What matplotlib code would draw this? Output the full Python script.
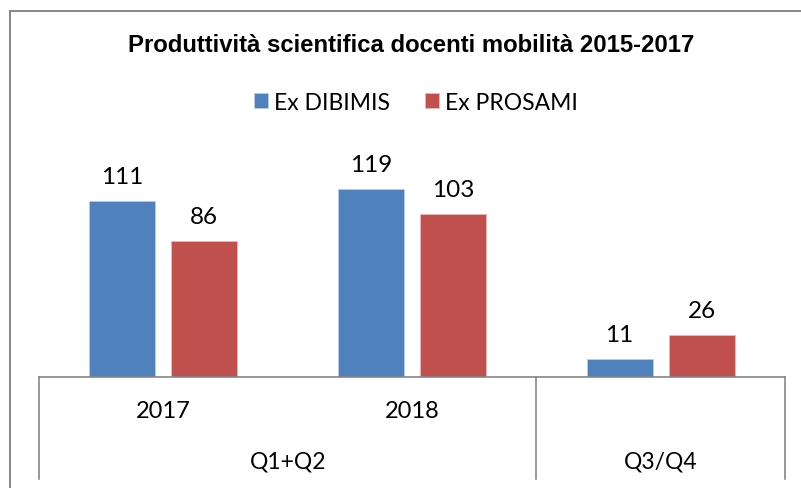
import numpy as np
import matplotlib.pyplot as plt
from matplotlib.patches import Rectangle
from matplotlib.lines import Line2D
import matplotlib.transforms as mtransforms

title = "Produttività scientifica docenti mobilità 2015-2017"
years = ["2017", "2018", ""]
groups = ["Q1+Q2", "Q3/Q4"]
series_names = ["Ex DIBIMIS", "Ex PROSAMI"]
dibimis = [111, 119, 11]
prosami = [86, 103, 26]

blue = "#4F81BD"
red = "#C0504D"
grey = "#868686"
lab_font = "Lato"

W, H = 801, 489
fig = plt.figure(figsize=(W / 100, H / 100), dpi=100)

# plot area in pixels (left, right, baseline, top)
x0, x1, yb, yt = 39, 785, 377.5, 156.5
ax = fig.add_axes([x0 / W, 1 - yb / H, (x1 - x0) / W, (yb - yt) / H])

x = np.arange(len(dibimis))
w = 0.266
off = 0.165
b1 = ax.bar(x - off, dibimis, w, color=blue, edgecolor="#B9CDE5", linewidth=0.6, label=series_names[0])
b2 = ax.bar(x + off, prosami, w, color=red, edgecolor="#E6B9B8", linewidth=0.6, label=series_names[1])

for bars, vals in [(b1, dibimis), (b2, prosami)]:
    for r, v in zip(bars, vals):
        ax.annotate(str(v), (r.get_x() + r.get_width() / 2, v), xytext=(0, 14),
                    textcoords="offset pixels", ha="center", va="bottom",
                    fontsize=17.5, family=lab_font, color="black")

ax.set_xlim(-0.5, 2.5)
ax.set_ylim(0, 140)
ax.set_xticks([])
ax.set_yticks([])
for s in ["top", "right", "left"]:
    ax.spines[s].set_visible(False)
ax.spines["bottom"].set_color(grey)
ax.spines["bottom"].set_linewidth(1.2)

# multi-level category axis
h_ax = yb - yt
trans = mtransforms.blended_transform_factory(ax.transData, ax.transAxes)
y_end = -(480 - yb) / h_ax
for xb in [-0.5, 1.5, 2.5]:
    ax.add_line(Line2D([xb, xb], [0, y_end], transform=trans, color=grey,
                       linewidth=1.2, clip_on=False))
for xi, yr in zip(x, years):
    ax.text(xi, -(412 - yb) / h_ax, yr, transform=trans, ha="center", va="center",
            fontsize=17, family=lab_font)
ax.text(0.5, -(462 - yb) / h_ax, groups[0], transform=trans, ha="center", va="center",
        fontsize=16.5, family=lab_font)
ax.text(2, -(462 - yb) / h_ax, groups[1], transform=trans, ha="center", va="center",
        fontsize=16.5, family=lab_font)

# title and legend
fig.text(411 / W, 1 - 45 / H, title, ha="center", va="center", fontsize=17.2,
         fontweight="bold", family="Liberation Sans")
fig.legend(handles=[b1, b2], loc="center", bbox_to_anchor=(416 / W, 1 - 103 / H), ncol=2,
           frameon=False, prop={"family": lab_font, "size": 16.5}, handlelength=0.6,
           handleheight=0.6, handletextpad=0.3, columnspacing=1.5)

# outer chart border (cropped at right and bottom)
fig.patches.append(Rectangle((10 / W, -0.05), 1.0, 1 - 12 / H + 0.05, transform=fig.transFigure,
                             fill=False, edgecolor=grey, linewidth=1.4))

fig.savefig("out.png", dpi=100)
